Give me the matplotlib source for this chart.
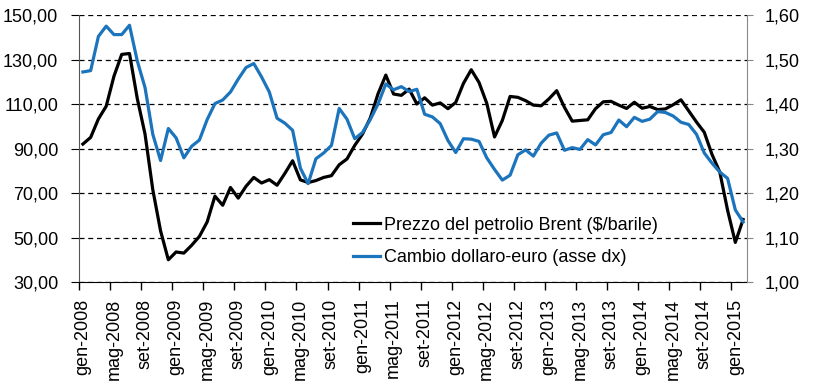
import matplotlib
matplotlib.use('Agg')
from matplotlib import pyplot as plt
from matplotlib.ticker import FuncFormatter, FixedLocator

plt.rcParams['font.family'] = ['Liberation Sans', 'DejaVu Sans']

# Prezzo Brent ($/barile), media mensile gen-2008 .. feb-2015
brent_2008 = [92.0, 95.0, 103.3, 109.0, 122.5, 132.3, 132.7, 112.5, 96.5, 71.5, 53.0, 40.0]
brent_2009 = [43.5, 43.0, 46.5, 50.5, 57.0, 68.6, 64.5, 72.5, 67.7, 73.0, 77.0, 74.5]
brent_2010 = [76.0, 73.5, 78.8, 84.5, 75.9, 74.7, 75.6, 77.0, 77.8, 82.7, 85.3, 91.4]
brent_2011 = [96.5, 103.7, 114.6, 123.0, 114.5, 113.9, 116.7, 110.0, 112.8, 109.5, 110.5, 107.9]
brent_2012 = [110.7, 119.3, 125.4, 119.7, 110.3, 95.2, 102.6, 113.4, 113.0, 111.5, 109.5, 109.2]
brent_2013 = [112.3, 116.0, 108.5, 102.3, 102.6, 102.9, 107.9, 111.0, 111.2, 109.5, 108.0, 110.8]
brent_2014 = [108.1, 108.9, 107.5, 107.8, 109.7, 111.9, 106.9, 101.9, 97.3, 87.3, 79.4, 62.3]
brent_2015 = [47.8, 58.1]

# Cambio dollaro-euro
cambio_2008 = [1.472, 1.475, 1.552, 1.575, 1.556, 1.556, 1.577, 1.497, 1.437, 1.332, 1.273, 1.345]
cambio_2009 = [1.324, 1.279, 1.305, 1.319, 1.365, 1.401, 1.409, 1.427, 1.456, 1.482, 1.491, 1.461]
cambio_2010 = [1.427, 1.368, 1.357, 1.341, 1.256, 1.221, 1.277, 1.290, 1.307, 1.390, 1.366, 1.322]
cambio_2011 = [1.336, 1.365, 1.400, 1.445, 1.432, 1.439, 1.428, 1.433, 1.377, 1.371, 1.356, 1.318]
cambio_2012 = [1.291, 1.322, 1.321, 1.316, 1.279, 1.253, 1.229, 1.240, 1.286, 1.297, 1.283, 1.312]
cambio_2013 = [1.330, 1.335, 1.296, 1.302, 1.298, 1.320, 1.308, 1.331, 1.336, 1.364, 1.349, 1.370]
cambio_2014 = [1.361, 1.366, 1.383, 1.381, 1.373, 1.359, 1.354, 1.332, 1.290, 1.267, 1.247, 1.233]
cambio_2015 = [1.162, 1.135]

mesi = ['gen', 'feb', 'mar', 'apr', 'mag', 'giu', 'lug', 'ago', 'set', 'ott', 'nov', 'dic']
anni = [2008, 2009, 2010, 2011, 2012, 2013, 2014, 2015]

brent = brent_2008 + brent_2009 + brent_2010 + brent_2011 + brent_2012 + brent_2013 + brent_2014 + brent_2015
cambio = cambio_2008 + cambio_2009 + cambio_2010 + cambio_2011 + cambio_2012 + cambio_2013 + cambio_2014 + cambio_2015
etichette = [m + '-' + str(a) for a in anni for m in mesi][:len(brent)]
x = list(range(len(brent)))

blu = '#1c75bc'
fs = 13

fig = plt.figure(figsize=(8.17, 3.85), dpi=100)
ax = fig.add_axes([0.0967, 0.2675, 0.8176, 0.6935])
ax2 = ax.twinx()

l1, = ax.plot(x, brent, color='black', linewidth=2.3, label='Prezzo del petrolio Brent ($/barile)')
l2, = ax2.plot(x, cambio, color=blu, linewidth=2.3, label='Cambio dollaro-euro (asse dx)')

ax.set_xlim(-0.5, len(x) - 0.5)
ax.set_ylim(30, 150)
ax2.set_ylim(1.0, 1.6)
ax.set_yticks([30, 50, 70, 90, 110, 130, 150])
ax2.set_yticks([1.0, 1.1, 1.2, 1.3, 1.4, 1.5, 1.6])
ax.yaxis.set_major_formatter(FuncFormatter(lambda v, p: ('%.2f' % v).replace('.', ',')))
ax2.yaxis.set_major_formatter(FuncFormatter(lambda v, p: ('%.2f' % v).replace('.', ',')))

ax.grid(axis='y', color='black', linestyle=(0, (4, 3)), linewidth=0.9)

# etichette ogni 4 mesi, tacche tra le categorie
pos = x[::4]
ax.set_xticks(pos)
ax.set_xticklabels([etichette[i] for i in pos], rotation=90, fontsize=fs)
ax.tick_params(axis='x', which='major', length=0, pad=12)
ax.xaxis.set_minor_locator(FixedLocator([p - 0.5 for p in pos]))
ax.tick_params(axis='x', which='minor', length=6, width=1, direction='out', color='black')

ax.tick_params(axis='y', labelsize=fs, length=6, direction='out', pad=9)
ax2.tick_params(axis='y', labelsize=fs, length=4, direction='out', color='#888888', pad=9)

for a in (ax, ax2):
    a.spines['top'].set_visible(False)
ax.spines['right'].set_visible(False)
ax2.spines['left'].set_visible(False)
ax2.spines['bottom'].set_visible(False)
ax2.spines['right'].set_color('#888888')
ax.spines['left'].set_color('#555555')
ax.spines['bottom'].set_color('black')

ax2.legend(handles=[l1, l2], loc='upper left', bbox_to_anchor=(0.41, 0.245),
           frameon=False, fontsize=fs, handlelength=1.5, handletextpad=0.25,
           borderpad=0, borderaxespad=0, labelspacing=0.85)

fig.savefig('out.png', dpi=100)
